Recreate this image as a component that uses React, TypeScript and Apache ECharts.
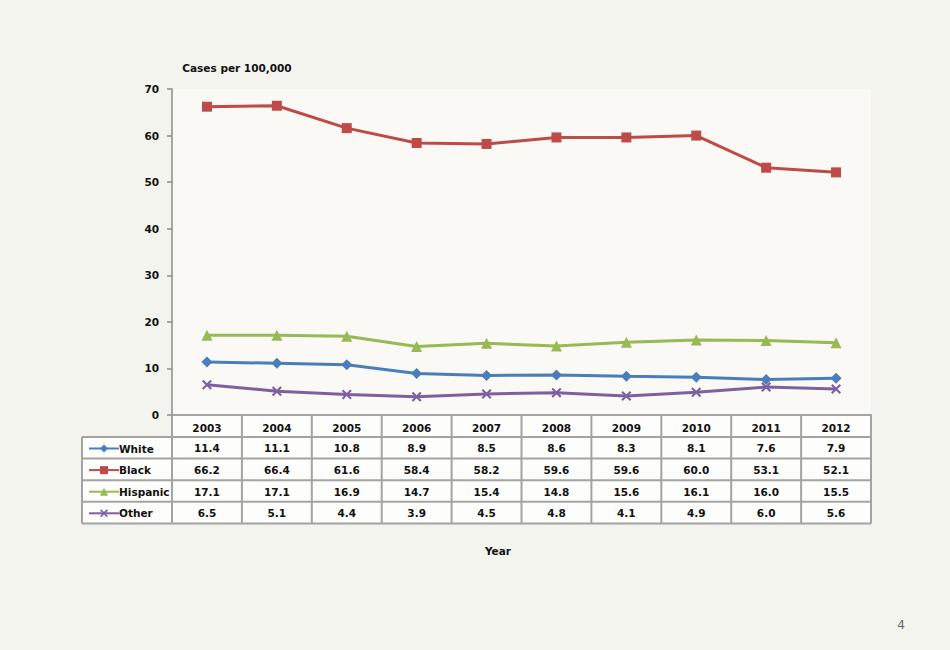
import React, { useEffect, useRef } from "react";
import * as echarts from "echarts";

const years = ["2003", "2004", "2005", "2006", "2007", "2008", "2009", "2010", "2011", "2012"];
const seriesNames = ["White", "Black", "Hispanic", "Other"];
const white = [11.4, 11.1, 10.8, 8.9, 8.5, 8.6, 8.3, 8.1, 7.6, 7.9];
const black = [66.2, 66.4, 61.6, 58.4, 58.2, 59.6, 59.6, 60.0, 53.1, 52.1];
const hispanic = [17.1, 17.1, 16.9, 14.7, 15.4, 14.8, 15.6, 16.1, 16.0, 15.5];
const other = [6.5, 5.1, 4.4, 3.9, 4.5, 4.8, 4.1, 4.9, 6.0, 5.6];
const yTicks = { min: 0, max: 70, interval: 10 };

const colors = ["#4a7ebb", "#be4b48", "#98b954", "#7d60a0"];
const XSYM = "path://M0,1.5 L1.5,0 L5,3.5 L8.5,0 L10,1.5 L6.5,5 L10,8.5 L8.5,10 L5,6.5 L1.5,10 L0,8.5 L3.5,5 Z";
const symbols = ["diamond", "rect", "triangle", XSYM];
const symbolSizes = [11, 10, 11, 10];

const FONT = "DejaVu Sans";
const FS = 10.5;

export default function App() {
  const ref = useRef<HTMLDivElement>(null);
  useEffect(() => {
    if (!ref.current) return;
    const chart = echarts.init(ref.current, null, { renderer: "svg" });
    const data = [white, black, hispanic, other];

    const gridLeft = 172;
    const gridRight = 871;
    const gridTop = 89;
    const gridBottomY = 415;
    const colW = (gridRight - gridLeft) / years.length;
    const rowH = 21.6;
    const headerBottom = gridBottomY + 22;
    const rowY = [0, 1, 2, 3, 4].map((i) => headerBottom + i * rowH);
    const tableBottom = rowY[4];
    const labelLeft = 82;
    const lineColor = "#a3a3a3";

    const graphics: any[] = [];
    graphics.push({
      type: "rect",
      z: 0,
      shape: { x: gridLeft, y: gridBottomY, width: gridRight - gridLeft, height: tableBottom - gridBottomY },
      style: { fill: "#fdfdfc" },
    });
    graphics.push({
      type: "rect",
      z: 0,
      shape: { x: labelLeft, y: headerBottom, width: gridLeft - labelLeft, height: tableBottom - headerBottom },
      style: { fill: "#fdfdfc" },
    });
    rowY.forEach((y) => {
      graphics.push({
        type: "line",
        shape: { x1: labelLeft, y1: y, x2: gridRight, y2: y },
        style: { stroke: lineColor, lineWidth: 2 },
      });
    });
    graphics.push({
      type: "line",
      shape: { x1: labelLeft, y1: headerBottom, x2: labelLeft, y2: tableBottom },
      style: { stroke: lineColor, lineWidth: 2 },
    });
    for (let k = 0; k <= years.length; k++) {
      const x = gridLeft + k * colW;
      graphics.push({
        type: "line",
        shape: { x1: x, y1: gridBottomY, x2: x, y2: tableBottom },
        style: { stroke: lineColor, lineWidth: 2 },
      });
    }
    data.forEach((arr, si) => {
      arr.forEach((v, ci) => {
        graphics.push({
          type: "text",
          x: gridLeft + (ci + 0.5) * colW,
          y: headerBottom + (si + 0.5) * rowH + 0.5,
          style: {
            text: v.toFixed(1),
            align: "center",
            verticalAlign: "middle",
            font: `bold ${FS}px "${FONT}"`,
            fill: "#111",
          },
        });
      });
    });
    graphics.push({
      type: "text",
      x: 237,
      y: 68,
      style: { text: "Cases per 100,000", align: "center", verticalAlign: "middle", font: `bold ${FS}px "${FONT}"`, fill: "#111" },
    });
    graphics.push({
      type: "text",
      x: 498,
      y: 551,
      style: { text: "Year", align: "center", verticalAlign: "middle", font: `bold ${FS}px "${FONT}"`, fill: "#111" },
    });
    graphics.push({
      type: "text",
      x: 901,
      y: 625,
      style: { text: "4", align: "center", verticalAlign: "middle", font: `12px "${FONT}"`, fill: "#666" },
    });

    chart.setOption({
      animation: false,
      backgroundColor: "#f3f4ee",
      color: colors,
      grid: {
        left: gridLeft,
        right: 950 - gridRight,
        top: gridTop,
        bottom: 650 - gridBottomY,
        show: true,
        borderWidth: 0,
        backgroundColor: "#faf9f5",
      },
      legend: {
        orient: "vertical",
        left: 83,
        top: headerBottom + 0.5,
        itemWidth: 30,
        itemHeight: 10,
        itemGap: rowH - 12,
        textStyle: { fontFamily: FONT, fontWeight: "bold", fontSize: FS, color: "#111", lineHeight: 12, padding: [0, 0, 0, -5] },
        data: seriesNames,
      },
      xAxis: {
        type: "category",
        data: years,
        boundaryGap: true,
        axisLine: { show: true, lineStyle: { color: lineColor, width: 2 } },
        axisTick: { show: false },
        axisLabel: { margin: 7, fontFamily: FONT, fontWeight: "bold", fontSize: FS, color: "#111" },
      },
      yAxis: {
        type: "value",
        min: yTicks.min,
        max: yTicks.max,
        interval: yTicks.interval,
        splitLine: { show: false },
        axisLine: { show: true, lineStyle: { color: "#8c8c8c", width: 1.5 } },
        axisTick: { show: true, length: 5, lineStyle: { color: "#8c8c8c", width: 1.5 } },
        axisLabel: { margin: 13, fontFamily: FONT, fontWeight: "bold", fontSize: FS, color: "#111" },
      },
      series: seriesNames.map((name, i) => ({
        name,
        type: "line",
        data: data[i],
        symbol: symbols[i],
        symbolSize: symbolSizes[i],
        showAllSymbol: true,
        lineStyle: { width: 3, color: colors[i] },
        itemStyle: { color: colors[i] },
      })),
      graphic: graphics,
    });
    return () => chart.dispose();
  }, []);
  return (
    <div
      ref={ref}
      style={{ position: "fixed", left: 0, top: 0, width: 950, height: 650 }}
    />
  );
}
